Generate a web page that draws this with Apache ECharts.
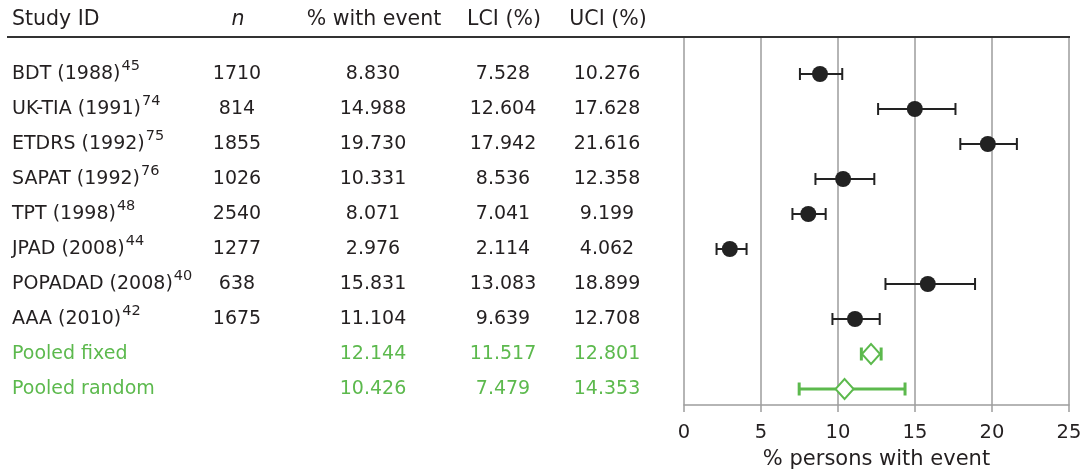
<!DOCTYPE html>
<html><head><meta charset="utf-8">
<script src="https://cdn.jsdelivr.net/npm/echarts@6/dist/echarts.min.js"></script>
<style>html,body{margin:0;padding:0;background:#fff}#c{width:1086px;height:473px}</style>
</head><body><div id="c"></div>
<script>
// ---- data ----
const studyNames = ['BDT (1988)','UK-TIA (1991)','ETDRS (1992)','SAPAT (1992)','TPT (1998)','JPAD (2008)','POPADAD (2008)','AAA (2010)','Pooled fixed','Pooled random'];
const studyRefs  = ['45','74','75','76','48','44','40','42','',''];
const rowKind    = ['study','study','study','study','study','study','study','study','pooled','pooled'];
const nValues    = ['1710','814','1855','1026','2540','1277','638','1675','',''];
const pctEvent   = [8.830,14.988,19.730,10.331,8.071,2.976,15.831,11.104,12.144,10.426];
const lciValues  = [7.528,12.604,17.942,8.536,7.041,2.114,13.083,9.639,11.517,7.479];
const uciValues  = [10.276,17.628,21.616,12.358,9.199,4.062,18.899,12.708,12.801,14.353];
const headers    = ['Study ID','n','% with event','LCI (%)','UCI (%)'];
const xTicks     = [0,5,10,15,20,25];
const xAxisTitle = '% persons with event';

// ---- style ----
const FONT = 'DejaVu Sans';
const TXT = '#231f20';
const GREEN = '#5cb94d';
const GRIDC = '#9d9d9d';
const FS = 19;
const HFS = 20.5;

const rows = studyNames.map((_, i) => i);
const isPooled = i => rowKind[i] === 'pooled';

const studyBars = [], studyPts = [], pooledBars = [], pooledPts = [];
rows.forEach(i => {
  if (isPooled(i)) { pooledBars.push([lciValues[i], uciValues[i], i]); pooledPts.push([pctEvent[i], i]); }
  else { studyBars.push([lciValues[i], uciValues[i], i]); studyPts.push([pctEvent[i], i]); }
});

function barRenderer(color, lw, capH) {
  return function (params, api) {
    const y = api.value(2);
    const a = api.coord([api.value(0), y]);
    const b = api.coord([api.value(1), y]);
    const st = { stroke: color, lineWidth: lw, fill: null };
    return { type: 'group', children: [
      { type: 'line', shape: { x1: a[0], y1: a[1], x2: b[0], y2: b[1] }, style: st },
      { type: 'line', shape: { x1: a[0], y1: a[1] - capH / 2, x2: a[0], y2: a[1] + capH / 2 }, style: st },
      { type: 'line', shape: { x1: b[0], y1: b[1] - capH / 2, x2: b[0], y2: b[1] + capH / 2 }, style: st }
    ]};
  };
}

// table columns: x positions and alignment (layout)
const colX = [12, 237, 373, 503, 607];
const colAlign = ['left','center','center','center','center'];
const fmt3 = v => v.toFixed(3);
const colText = [
  i => isPooled(i) ? '{g|' + studyNames[i] + '}' : '{m|' + studyNames[i] + '}{s|' + studyRefs[i] + '}',
  i => nValues[i] === '' ? '' : '{t|' + nValues[i] + '}',
  i => (isPooled(i) ? '{g|' : '{t|') + fmt3(pctEvent[i]) + '}',
  i => (isPooled(i) ? '{g|' : '{t|') + fmt3(lciValues[i]) + '}',
  i => (isPooled(i) ? '{g|' : '{t|') + fmt3(uciValues[i]) + '}'
];
const rich = {
  t: { fontFamily: FONT, fontSize: FS, color: TXT, lineHeight: 24 },
  m: { fontFamily: FONT, fontSize: FS, color: TXT, lineHeight: 34 },
  s: { fontFamily: FONT, fontSize: 14.5, color: TXT, verticalAlign: 'top', padding: [2, 0, 0, 1] },
  g: { fontFamily: FONT, fontSize: FS, color: GREEN, lineHeight: 24 }
};

const tableYAxes = colX.map((x, c) => ({
  type: 'category', gridIndex: 1, position: 'left', offset: -x, inverse: true,
  data: rows.map(String),
  axisLine: { show: false }, axisTick: { show: false }, splitLine: { show: false },
  axisLabel: { inside: true, margin: 0, align: colAlign[c], interval: 0,
    formatter: (v) => colText[c](+v), rich: rich }
}));

const chart = echarts.init(document.getElementById('c'), null, { renderer: 'canvas' });
chart.setOption({
  animation: false,
  backgroundColor: '#fff',
  grid: [
    { left: 684, right: 17, top: 37, height: 368, outerBoundsMode: 'none', containLabel: false },
    { left: 0, width: 680, top: 56.5, height: 350, outerBoundsMode: 'none', containLabel: false }
  ],
  xAxis: [
    { type: 'value', gridIndex: 0, min: xTicks[0], max: xTicks[xTicks.length - 1], interval: xTicks[1] - xTicks[0],
      axisLine: { show: true, onZero: false, lineStyle: { color: GRIDC, width: 1.5 } },
      axisTick: { show: true, length: 7, lineStyle: { color: GRIDC, width: 1.5 } },
      splitLine: { show: true, lineStyle: { color: GRIDC, width: 1.5 } },
      axisLabel: { fontFamily: FONT, fontSize: 19.5, color: TXT, margin: 18, showMinLabel: true, showMaxLabel: true },
      name: xAxisTitle, nameLocation: 'middle', nameGap: 44,
      nameTextStyle: { fontFamily: FONT, fontSize: 21, color: TXT } },
    { type: 'value', gridIndex: 1, show: false }
  ],
  yAxis: [
    { type: 'value', gridIndex: 0, inverse: true, min: -1.057, max: 9.457, show: false },
    ...tableYAxes
  ],
  graphic: [
    { type: 'line', shape: { x1: 7, y1: 37, x2: 1070, y2: 37 }, style: { stroke: '#333', lineWidth: 2 }, z: 100 },
    ...headers.map((h, c) => ({
      type: 'text', x: c === 0 ? colX[c] : colX[c] + 1, y: 20,
      style: { text: h, fontFamily: FONT, fontSize: HFS, fill: TXT,
        fontStyle: c === 1 ? 'italic' : 'normal',
        textAlign: colAlign[c], textVerticalAlign: 'middle' }
    }))
  ],
  series: [
    { type: 'custom', xAxisIndex: 0, yAxisIndex: 0, renderItem: barRenderer('#222', 2, 12),
      encode: { x: [0, 1], y: 2 }, data: studyBars, z: 3 },
    { type: 'scatter', xAxisIndex: 0, yAxisIndex: 0, symbol: 'circle', symbolSize: 16,
      itemStyle: { color: '#222', opacity: 1 }, data: studyPts, z: 4 },
    { type: 'custom', xAxisIndex: 0, yAxisIndex: 0, renderItem: barRenderer(GREEN, 3, 13),
      encode: { x: [0, 1], y: 2 }, data: pooledBars, z: 3 },
    { type: 'scatter', xAxisIndex: 0, yAxisIndex: 0, symbol: 'diamond', symbolSize: [18, 20],
      itemStyle: { color: '#fff', borderColor: GREEN, borderWidth: 2, opacity: 1 }, data: pooledPts, z: 5 }
  ]
});
</script>
</body></html>
